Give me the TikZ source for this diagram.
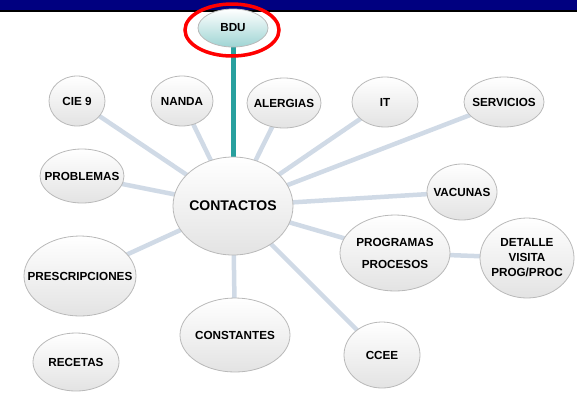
\documentclass[tikz,border=0pt]{standalone}
\usepackage{fontspec}
\setmainfont{Liberation Sans}
\usetikzlibrary{shapes.geometric,backgrounds}
\definecolor{navybar}{RGB}{0,0,128}
\definecolor{bdulink}{RGB}{40,160,158}
\definecolor{armline}{RGB}{208,218,230}
\begin{document}
\begin{tikzpicture}[x=1pt,y=-1pt,
    bubble/.style={ellipse,draw=gray!55,thick,top color=white,bottom color=gray!22,
      inner xsep=-16pt,inner ysep=-4pt,align=center,font=\bfseries\fontsize{11.7}{13}\selectfont},
    arm/.style={armline,line width=4.5pt}]
  \useasboundingbox (0,0) rectangle (577,405);
  % Header
  \fill[navybar] (0,0) rectangle (577,10);
  \fill[black] (0,10) rectangle (577,12);
  % Bubbles
  \node[bubble,minimum width=120pt,minimum height=98pt,
    font=\bfseries\fontsize{14}{16}\selectfont] (contactos) at (233,206) {CONTACTOS};
  \node[bubble,minimum width=70pt,minimum height=38pt,bottom color=bdulink!45] (bdu) at (233,28) {BDU};
  \node[bubble,minimum width=56pt,minimum height=50pt] (cie) at (77,101) {CIE 9};
  \node[bubble,minimum width=62pt,minimum height=50pt] (nanda) at (182,101) {NANDA};
  \node[bubble,minimum width=74pt,minimum height=50pt] (alergias) at (284,103) {ALERGIAS};
  \node[bubble,minimum width=66pt,minimum height=50pt] (it) at (385,102) {IT};
  \node[bubble,minimum width=80pt,minimum height=50pt] (servicios) at (504,102) {SERVICIOS};
  \node[bubble,minimum width=84pt,minimum height=54pt] (problemas) at (82,176) {PROBLEMAS};
  \node[bubble,minimum width=70pt,minimum height=56pt] (vacunas) at (462,192) {VACUNAS};
  \node[bubble,minimum width=110pt,minimum height=76pt,
    font=\bfseries\fontsize{11.7}{22}\selectfont] (programas) at (395,253) {PROGRAMAS\\PROCESOS};
  \node[bubble,minimum width=94pt,minimum height=80pt,
    font=\bfseries\fontsize{11.7}{15}\selectfont] (detalle) at (527,258) {DETALLE\\VISITA\\PROG/PROC};
  \node[bubble,minimum width=112pt,minimum height=80pt] (prescripciones) at (80,276) {PRESCRIPCIONES};
  \node[bubble,minimum width=110pt,minimum height=74pt] (constantes) at (235,335) {CONSTANTES};
  \node[bubble,minimum width=86pt,minimum height=58pt] (recetas) at (76,362) {RECETAS};
  \node[bubble,minimum width=76pt,minimum height=66pt] (ccee) at (382,355) {CCEE};
  % Links
  \begin{pgfonlayer}{background}
    \foreach \n in {cie,nanda,alergias,it,servicios,problemas,vacunas,
      programas,prescripciones,constantes,ccee}
      \draw[arm] (contactos.center) -- (\n.center);
    \draw[arm] (programas.center) -- (detalle.center);
    \draw[bdulink,line width=5pt] (bdu.center) -- (contactos.center);
  \end{pgfonlayer}
  % Highlight
  \node[ellipse,draw=red,line width=3.5pt,minimum width=94pt,minimum height=52pt] (mark) at (232,30) {};
\end{tikzpicture}
\end{document}
